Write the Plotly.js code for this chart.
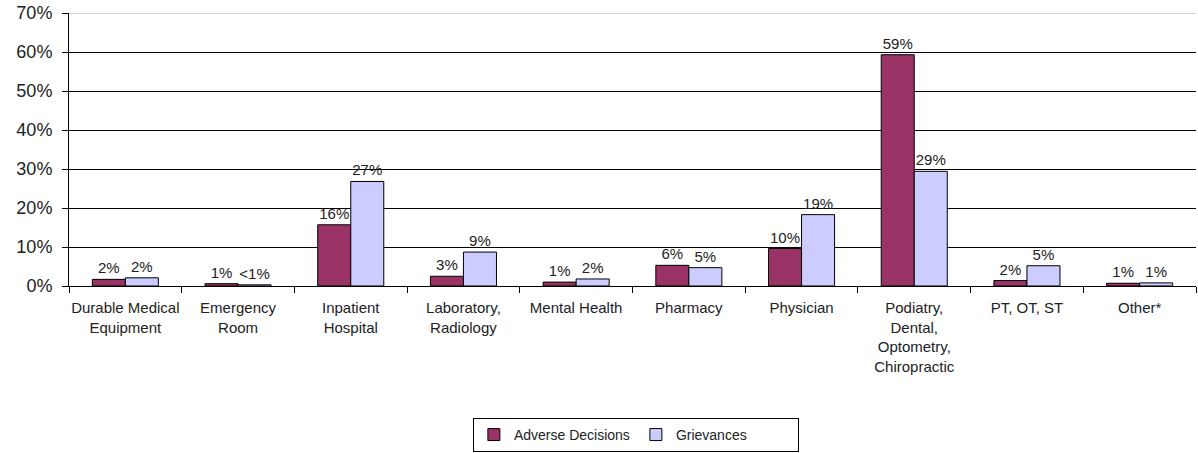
<!DOCTYPE html>
<html>
<head>
<meta charset="utf-8">
<script src="https://cdn.plot.ly/plotly-3.0.1.min.js"></script>
<style>html,body{margin:0;padding:0;background:#fff;}#chart{width:1198px;height:453px;}</style>
</head>
<body>
<div id="chart"></div>
<script>
var categories = ["Durable Medical<br>Equipment", "Emergency<br>Room", "Inpatient<br>Hospital", "Laboratory,<br>Radiology", "Mental Health", "Pharmacy", "Physician", "Podiatry,<br>Dental,<br>Optometry,<br>Chiropractic", "PT, OT, ST", "Other*"];
var adverseValues = [0.017, 0.006, 0.157, 0.025, 0.010, 0.053, 0.096, 0.593, 0.014, 0.007];
var adverseLabels = ["2%", "1%", "16%", "3%", "1%", "6%", "10%", "59%", "2%", "1%"];
var grievanceValues = [0.021, 0.003, 0.268, 0.087, 0.018, 0.047, 0.183, 0.294, 0.052, 0.008];
var grievanceLabels = ["2%", "<1%", "27%", "9%", "2%", "5%", "19%", "29%", "5%", "1%"];
var yTicks = [0, 0.1, 0.2, 0.3, 0.4, 0.5, 0.6, 0.7];
var yTickLabels = ["0%", "10%", "20%", "30%", "40%", "50%", "60%", "70%"];

var font = "Liberation Sans, Arial, sans-serif";

var traces = [
  {
    type: "bar", name: "Adverse Decisions", x: categories, y: adverseValues,
    text: adverseLabels, textposition: "outside", cliponaxis: false,
    textfont: {family: font, size: 15, color: "#222"},
    marker: {color: "#993366", line: {color: "#000", width: 1}},
    hoverinfo: "skip"
  },
  {
    type: "bar", name: "Grievances", x: categories, y: grievanceValues,
    text: grievanceLabels, textposition: "outside", cliponaxis: false,
    textfont: {family: font, size: 15, color: "#222"},
    marker: {color: "#CCCCFF", line: {color: "#000", width: 1}},
    hoverinfo: "skip"
  }
];

var layout = {
  width: 1198, height: 453,
  margin: {l: 69, r: 2, t: 13, b: 166},
  paper_bgcolor: "#fff", plot_bgcolor: "#fff",
  font: {family: font, size: 14, color: "#222"},
  barmode: "group", bargap: 0.414, bargroupgap: 0,
  showlegend: true,
  legend: {
    orientation: "h", x: 0.503, xanchor: "center", y: -0.478, yanchor: "top",
    bordercolor: "#000", borderwidth: 1, font: {family: font, size: 14, color: "#222"},
    entrywidth: 117, itemwidth: 30
  },
  xaxis: {
    type: "category", tickson: "boundaries", ticks: "outside", ticklen: 6,
    tickcolor: "#000", showline: true, linecolor: "#000", linewidth: 1,
    showgrid: false, tickfont: {family: font, size: 15, color: "#222"},
    tickangle: 0, ticklabelstandoff: 8,
    fixedrange: true
  },
  yaxis: {
    range: [0, 0.7], tickvals: yTicks, ticktext: yTickLabels,
    ticks: "outside", ticklen: 6, tickcolor: "#000",
    showline: true, linecolor: "#000", linewidth: 1,
    showgrid: true, gridcolor: "#000", gridwidth: 1, zeroline: false,
    tickfont: {family: font, size: 18, color: "#222"},
    ticklabelstandoff: 6,
    fixedrange: true
  },
  shapes: [
    {type: "line", xref: "paper", yref: "y", x0: 0, x1: 1, y0: 0.7, y1: 0.7, line: {color: "#aaa", width: 1}, layer: "above"}
  ]
};

Plotly.newPlot("chart", traces, layout, {staticPlot: true, displayModeBar: false});
</script>
</body>
</html>
